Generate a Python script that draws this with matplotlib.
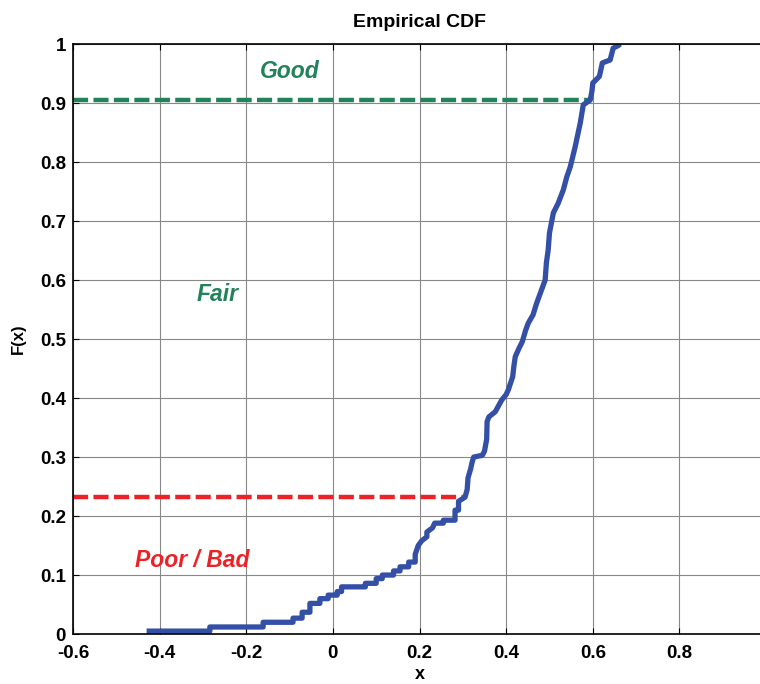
import numpy as np
import matplotlib.pyplot as plt

plt.rcParams['font.family'] = ['Liberation Sans', 'DejaVu Sans']
plt.rcParams['font.weight'] = 'bold'

# traced empirical CDF (x, F(x))
x_vals = [-0.43, -0.284, -0.284, -0.161, -0.161, -0.092, -0.092, -0.071, -0.071, -0.053,
          -0.053, -0.03, -0.03, -0.011, -0.011, 0.01, 0.01, 0.02, 0.02, 0.075,
          0.075, 0.1, 0.1, 0.114, 0.114, 0.14, 0.14, 0.155, 0.155, 0.175,
          0.175, 0.19, 0.19, 0.197, 0.205, 0.217, 0.217, 0.23, 0.235, 0.255,
          0.255, 0.282, 0.282, 0.29, 0.29, 0.305, 0.31, 0.312, 0.318, 0.321,
          0.325, 0.345, 0.35, 0.355, 0.356, 0.36, 0.375, 0.39, 0.4, 0.405,
          0.415, 0.418, 0.421, 0.43, 0.437, 0.445, 0.451, 0.462, 0.47, 0.479,
          0.49, 0.493, 0.497, 0.5, 0.509, 0.52, 0.532, 0.54, 0.548, 0.559,
          0.571, 0.578, 0.594, 0.598, 0.60, 0.615, 0.617, 0.622, 0.64, 0.647,
          0.66, 0.663]
F_vals = [0.005, 0.005, 0.012, 0.012, 0.02, 0.02, 0.027, 0.027, 0.037, 0.037,
          0.052, 0.052, 0.06, 0.06, 0.066, 0.066, 0.072, 0.072, 0.08, 0.08,
          0.086, 0.086, 0.094, 0.094, 0.10, 0.10, 0.107, 0.107, 0.114, 0.114,
          0.122, 0.122, 0.135, 0.15, 0.158, 0.165, 0.173, 0.18, 0.188, 0.188,
          0.193, 0.193, 0.21, 0.21, 0.225, 0.232, 0.245, 0.265, 0.28, 0.29,
          0.30, 0.303, 0.31, 0.33, 0.36, 0.368, 0.377, 0.397, 0.406, 0.414,
          0.436, 0.455, 0.47, 0.485, 0.495, 0.515, 0.527, 0.541, 0.56, 0.578,
          0.60, 0.63, 0.651, 0.68, 0.714, 0.73, 0.753, 0.775, 0.792, 0.825,
          0.866, 0.897, 0.905, 0.92, 0.934, 0.945, 0.951, 0.968, 0.973, 0.993,
          0.998, 1.0]

# quality thresholds
poor_level = 0.232
poor_x_end = 0.30
good_level = 0.905
good_x_end = 0.592

fig = plt.figure(figsize=(7.6, 6.84), dpi=100)
ax = fig.add_axes([0.096, 0.073, 0.912, 0.8626])

ax.plot([-0.6, poor_x_end], [poor_level, poor_level], '--', color='#EC2227', lw=3.2, dashes=(3.4, 1.2))
ax.plot([-0.6, good_x_end], [good_level, good_level], '--', color='#22825A', lw=3.2, dashes=(3.4, 1.2))
ax.plot(x_vals, F_vals, color='#3450A6', lw=3.8, solid_capstyle='butt')

ax.text(-0.1, 0.953, 'Good', color='#22825A', fontsize=16.5, fontweight='bold', style='italic', ha='center', va='center')
ax.text(-0.265, 0.576, 'Fair', color='#22825A', fontsize=16.5, fontweight='bold', style='italic', ha='center', va='center')
ax.text(-0.325, 0.124, 'Poor / Bad', color='#EC2227', fontsize=16.5, fontweight='bold', style='italic', ha='center', va='center')

ax.set_xlim(-0.6, 1)
ax.set_ylim(0, 1)
ax.set_xticks(np.arange(-0.6, 1.01, 0.2))
ax.set_xticklabels(['-0.6', '-0.4', '-0.2', '0', '0.2', '0.4', '0.6', '0.8', '1'])
ax.set_yticks(np.arange(0, 1.01, 0.1))
ax.set_yticklabels(['0', '0.1', '0.2', '0.3', '0.4', '0.5', '0.6', '0.7', '0.8', '0.9', '1'])
ax.tick_params(direction='in', top=True, right=True, labelsize=13.5, length=4, width=0.8)
ax.tick_params(axis='x', pad=8)
ax.tick_params(axis='y', pad=5)
for lab in ax.get_xticklabels() + ax.get_yticklabels():
    lab.set_fontweight('bold')
ax.grid(True, color='#888888', lw=0.8)
ax.set_axisbelow(True)
for s in ax.spines.values():
    s.set_linewidth(1.2)

ax.set_title('Empirical CDF', fontsize=14, fontweight='bold', pad=12)
ax.set_xlabel('x', fontsize=13, fontweight='bold', labelpad=2.5)
ax.set_ylabel('F(x)', fontsize=12, fontweight='bold', labelpad=10)

fig.savefig('out.png', dpi=100)
